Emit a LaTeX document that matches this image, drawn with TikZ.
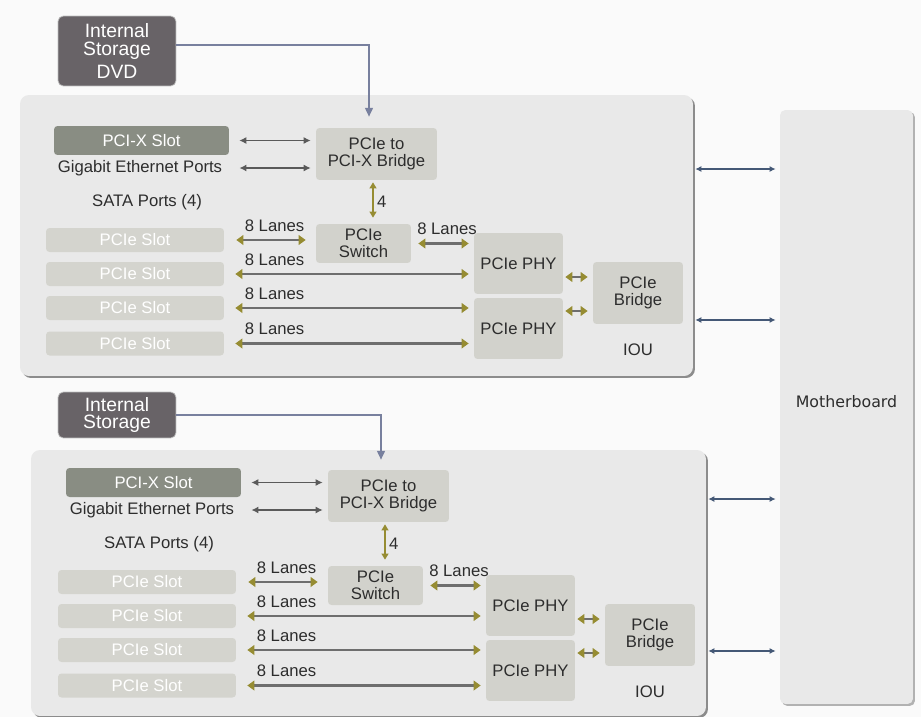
\documentclass[tikz,border=0pt]{standalone}
\usepackage{fontspec}
\setmainfont{Liberation Sans}
\newfontfamily\mbfont{DejaVu Sans}
\usetikzlibrary{arrows.meta, positioning, shadows}
\definecolor{pagebg}{RGB}{250, 250, 250}
\definecolor{panelgray}{RGB}{233, 233, 233}
\definecolor{storagegray}{RGB}{104, 99, 103}
\definecolor{pcixgreen}{RGB}{137, 141, 131}
\definecolor{slotgray}{RGB}{212, 212, 206}
\definecolor{boxgray}{RGB}{210, 210, 204}
\definecolor{textdark}{RGB}{45, 45, 45}
\definecolor{lanegray}{RGB}{110, 110, 110}
\definecolor{linkgray}{RGB}{90, 90, 90}
\definecolor{tipolive}{RGB}{150, 140, 50}
\definecolor{feedblue}{RGB}{120, 128, 158}
\definecolor{mbblue}{RGB}{68, 88, 118}

\begin{document}
\begin{tikzpicture}[
  x=0.02cm, y=-0.02cm,
  font=\fontsize{9.5}{9.8}\selectfont,
  panel/.style={fill=panelgray, rounded corners=5pt, inner sep=0pt,
    drop shadow={shadow xshift=0.04cm, shadow yshift=-0.04cm, fill=black!45, opacity=1}},
  storage/.style={fill=storagegray, draw=black!25, rounded corners=3pt, text=white, align=center,
    inner sep=0pt, minimum width=2.36cm, font=\fontsize{11}{10}\selectfont},
  ibox/.style={fill=boxgray, rounded corners=2pt, text=textdark, align=center, inner sep=0pt},
  slotbox/.style={fill=slotgray, rounded corners=2pt, text=white, inner sep=0pt,
    minimum width=3.56cm, minimum height=0.48cm},
  pcixbox/.style={fill=pcixgreen, rounded corners=2pt, text=white, inner sep=0pt,
    minimum width=3.5cm, minimum height=0.58cm},
  plain/.style={text=textdark, inner sep=0pt},
  lane/.style={draw=lanegray, line width=1.7pt,
    arrows={Triangle[color=tipolive, length=4pt, width=5.5pt]-Triangle[color=tipolive, length=4pt, width=5.5pt]}},
  lanelbl/.style={text=textdark, inner sep=0pt, above=4pt},
  thinlink/.style={draw=linkgray, line width=0.7pt,
    arrows={Latex[length=4pt, width=4pt]-Latex[length=4pt, width=4pt]}},
  olivelink/.style={draw=tipolive, line width=0.8pt,
    arrows={Triangle[length=3.5pt, width=4pt]-Triangle[length=3.5pt, width=4pt]}},
  feed/.style={draw=feedblue, line width=0.8pt, -{Triangle[length=5pt, width=4.5pt]}},
  mblink/.style={draw=mbblue, line width=0.9pt,
    arrows={Latex[length=3.5pt, width=3.5pt]-Latex[length=3.5pt, width=3.5pt]}}
]
  \useasboundingbox[fill=pagebg] (0,0) rectangle (921,717);

  % motherboard and the two IOU panels
  \node[fill=panelgray, rounded corners=3pt, inner sep=0pt, minimum width=2.66cm, minimum height=11.88cm,
    drop shadow={shadow xshift=0.04cm, shadow yshift=-0.04cm, fill=black!30, opacity=1},
    font=\mbfont\fontsize{9}{10}\selectfont, text=textdark, text depth=0.24cm] (mb) at (846.5,407) {Motherboard};
  \node[panel, minimum width=13.46cm, minimum height=5.62cm] (panelA) at (356.5,235.5) {};
  \node[panel, minimum width=13.5cm, minimum height=5.32cm] (panelB) at (368.5,583) {};

  \node[storage, minimum height=1.4cm] (storeA) at (117,51) {Internal\\Storage\\[3pt]DVD};
  \node[storage, minimum height=0.92cm] (storeB) at (117,415) {Internal\\Storage};

  \foreach \dx/\dy/\p in {0/0/A, 12/342/B} {
    \begin{scope}[shift={(\dx,\dy)}, name prefix=\p-]
      \node[pcixbox] (pcix) at (141.5,140.5) {PCI-X Slot};
      \node[plain] (gige) at (140,168) {Gigabit Ethernet Ports};
      \node[plain] (sata) at (147,202) {SATA Ports (4)};
      \node[slotbox] (slot1) at (135,240) {PCIe Slot};
      \node[slotbox] (slot2) at (135,274) {PCIe Slot};
      \node[slotbox] (slot3) at (135,308) {PCIe Slot};
      \node[slotbox] (slot4) at (135,343.5) {PCIe Slot};

      \node[ibox, minimum width=2.42cm, minimum height=1.04cm] (bridge) at (376.5,154) {PCIe to\\PCI-X Bridge};
      \node[ibox, minimum width=1.9cm, minimum height=0.78cm] (switch) at (363.5,243.5) {PCIe\\Switch};
      \node[ibox, minimum width=1.78cm, minimum height=1.22cm] (phy1) at (518.5,263.5) {PCIe PHY};
      \node[ibox, minimum width=1.78cm, minimum height=1.22cm] (phy2) at (518.5,328.5) {PCIe PHY};
      \node[ibox, minimum width=1.8cm, minimum height=1.24cm] (pbridge) at (638,293) {PCIe\\Bridge};
      \node[plain] (iou) at (638,350) {IOU};

      \draw[thinlink, shorten <=0.2cm, shorten >=0.1cm] (pcix.east) -- (pcix.east -| bridge.west);
      \draw[thinlink, shorten <=0.34cm, shorten >=0.1cm] (gige.east) -- (gige.east -| bridge.west);
      \draw[olivelink, shorten <=0.04cm, shorten >=0.12cm]
        ([xshift=-0.07cm]bridge.south) -- node[right=2pt, text=textdark, inner sep=0pt] {4}
        ([xshift=-0.07cm]bridge.south |- switch.north);

      \draw[lane, shorten <=0.24cm, shorten >=0.2cm] (slot1.east)
        -- node[lanelbl, pos=0, anchor=south west, xshift=0.38cm] {8 Lanes} (slot1.east -| switch.west);
      \draw[lane, shorten <=0.14cm, shorten >=0.1cm] (switch.east)
        -- node[lanelbl, midway, xshift=0.09cm] {8 Lanes} (switch.east -| phy1.west);
      \draw[lane, shorten <=0.22cm, shorten >=0.1cm] (slot2.east)
        -- node[lanelbl, pos=0, anchor=south west, xshift=0.38cm] {8 Lanes} (slot2.east -| phy1.west);
      \draw[lane, shorten <=0.22cm, shorten >=0.1cm] (slot3.east)
        -- node[lanelbl, pos=0, anchor=south west, xshift=0.38cm] {8 Lanes} (slot3.east -| phy2.west);
      \draw[lane, shorten <=0.22cm, shorten >=0.1cm] (slot4.east)
        -- node[lanelbl, pos=0, anchor=south west, xshift=0.38cm] {8 Lanes} (slot4.east -| phy2.west);

      \draw[lane, line width=1.2pt, shorten <=0.1cm, shorten >=0.04cm]
        ([yshift=0.32cm]pbridge.west) -- ([yshift=0.32cm]pbridge.west -| phy1.east);
      \draw[lane, line width=1.2pt, shorten <=0.1cm, shorten >=0.04cm]
        ([yshift=-0.36cm]pbridge.west) -- ([yshift=-0.36cm]pbridge.west -| phy2.east);
    \end{scope}
  }

  % storage feeds
  \draw[feed, shorten >=0.22cm] ([yshift=0.12cm]storeA.east) -| ([xshift=-0.15cm]A-bridge.north);
  \draw[feed, shorten >=0.2cm] (storeB.east) -| ([xshift=-0.15cm]B-bridge.north);

  % links to the motherboard
  \draw[mblink, shorten <=0.04cm, shorten >=0.08cm] ([yshift=1.33cm]panelA.east) -- ([yshift=1.33cm]panelA.east -| mb.west);
  \draw[mblink, shorten <=0.04cm, shorten >=0.08cm] ([yshift=-1.69cm]panelA.east) -- ([yshift=-1.69cm]panelA.east -| mb.west);
  \draw[mblink, shorten <=0.04cm, shorten >=0.08cm] ([yshift=1.68cm]panelB.east) -- ([yshift=1.68cm]panelB.east -| mb.west);
  \draw[mblink, shorten <=0.04cm, shorten >=0.08cm] ([yshift=-1.36cm]panelB.east) -- ([yshift=-1.36cm]panelB.east -| mb.west);
\end{tikzpicture}
\end{document}
